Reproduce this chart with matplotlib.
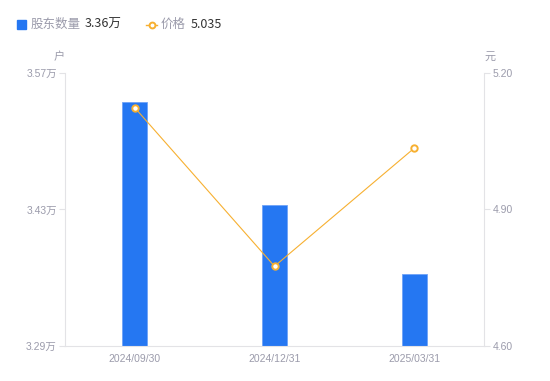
import matplotlib.pyplot as plt
from matplotlib.lines import Line2D
from matplotlib.patches import Rectangle

plt.rcParams['font.family'] = ['Noto Sans CJK SC', 'DejaVu Sans']
TICK_FONT = ['Liberation Sans', 'Noto Sans CJK SC']

# dati
dates = ['2024/09/30', '2024/12/31', '2025/03/31']
holders = [3.540, 3.4346, 3.3634]   # 万户
price = [5.124, 4.775, 5.035]       # 元
left_ticks = [3.29, 3.43, 3.57]
right_ticks = [4.60, 4.90, 5.20]

BLUE = '#2577f2'
ORANGE = '#f7b031'
GRAY = '#9b9bab'
AXIS = '#e3e3e6'

fig = plt.figure(figsize=(5.5, 3.81), dpi=100)
ax = fig.add_axes([65 / 550, 1 - 345.7 / 381, 419 / 550, 272.4 / 381])
x = range(len(dates))
ax.bar(x, holders, width=0.18, color=BLUE, edgecolor='#6fa3f7', linewidth=0.6, zorder=2)
ax.set_xlim(-0.5, 2.5)
ax.set_ylim(left_ticks[0], left_ticks[-1])
ax.set_yticks(left_ticks)
ax.set_yticklabels([f'{v:.2f}万' for v in left_ticks], family=TICK_FONT)
ax.set_xticks(list(x))
ax.set_xticklabels(dates, family=TICK_FONT)

ax2 = ax.twinx()
ax2.plot(x, price, color=ORANGE, lw=0.8, marker='o', ms=4.6, mfc='white',
         mec=ORANGE, mew=1.4, zorder=3)
ax2.set_ylim(right_ticks[0], right_ticks[-1])
ax2.set_yticks(right_ticks)
ax2.set_yticklabels([f'{v:.2f}' for v in right_ticks], family=TICK_FONT)

for a in (ax, ax2):
    for s in a.spines.values():
        s.set_visible(False)
    a.tick_params(labelsize=7.5, colors=GRAY, length=4, width=0.8)
    a.tick_params(axis='y', color=AXIS, pad=2)
    a.tick_params(axis='x', length=0, pad=6)
ax.spines['left'].set_visible(True)
ax.spines['left'].set_color(AXIS)
ax.spines['bottom'].set_visible(True)
ax.spines['bottom'].set_color(AXIS)
ax2.spines['right'].set_visible(True)
ax2.spines['right'].set_color(AXIS)

# unità
fig.text(59 / 550, 1 - 57 / 381, '户', color=GRAY, fontsize=8, ha='center', va='center')
fig.text(490 / 550, 1 - 57 / 381, '元', color=GRAY, fontsize=8, ha='center', va='center')

# legenda
fig.patches.append(Rectangle((17 / 550, 1 - 29 / 381), 9 / 550, 9 / 381,
                             transform=fig.transFigure, color=BLUE))
fig.text(31 / 550, 1 - 24.5 / 381, '股东数量', color=GRAY, fontsize=9, va='center')
fig.text(85 / 550, 1 - 24.5 / 381, f'{holders[-1]:.2f}万', color='#333333', fontsize=9, va='center')
fig.lines.append(Line2D([146 / 550, 157 / 550], [1 - 24.5 / 381] * 2, transform=fig.transFigure,
                        color=ORANGE, lw=1))
fig.lines.append(Line2D([151.5 / 550], [1 - 24.5 / 381], transform=fig.transFigure,
                        marker='o', ms=4.2, mfc='white', mec=ORANGE, mew=1.4))
fig.text(161 / 550, 1 - 24.5 / 381, '价格', color=GRAY, fontsize=9, va='center')
fig.text(191 / 550, 1 - 24.5 / 381, f'{price[-1]:.3f}', color='#333333', fontsize=9, va='center')

plt.savefig('out.png', dpi=100)
